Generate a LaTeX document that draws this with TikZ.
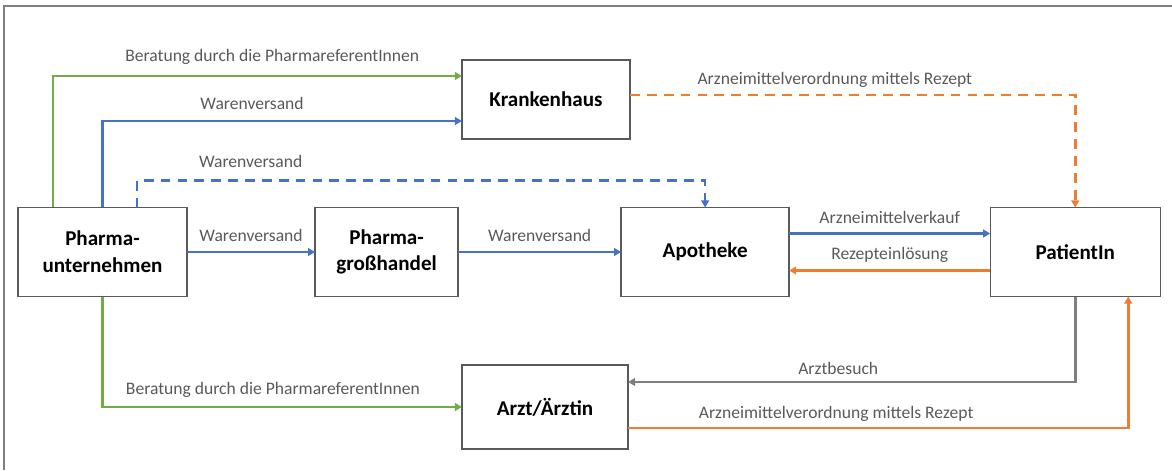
\documentclass[tikz,border=0pt]{standalone}
\usepackage{fontspec}
\setmainfont{Carlito}
\usetikzlibrary{arrows.meta,positioning}
\definecolor{flowgreen}{HTML}{70AD47}
\definecolor{flowblue}{HTML}{4472C4}
\definecolor{floworange}{HTML}{ED7D31}
\definecolor{flowgray}{HTML}{7F7F7F}
\definecolor{textgray}{HTML}{595959}
\tikzset{
	box/.style={
		rectangle,
		draw=textgray,
		line width=1pt,
		fill=white,
		align=center,
		inner sep=0pt,
		outer sep=0pt,
		font=\fontsize{15}{19}\selectfont\bfseries,
		minimum height=2.225cm,
	},
	lbl/.style={
		text=textgray,
		font=\fontsize{12.5}{15}\selectfont,
		inner sep=3pt,
	},
	flow/.style={
		->,
		line width=1.9pt,
	},
	dashflow/.style={
		flow,
		dash pattern=on 7pt off 5pt,
	},
}

\begin{document}
\begin{tikzpicture}[x=0.025cm,y=-0.025cm,>={Triangle[length=5pt,width=5.5pt]}]
	\useasboundingbox (0,0) rectangle (1172,470);
	\draw[flowgray, line width=1pt] (4,470) -- (4,6) -- (1172,6);

	\node [box, minimum width=4.225cm] (pharma) at (102.5,252) {Pharma-\\unternehmen};
	\node [box, minimum width=3.575cm] (grosshandel) [right=3.2cm of pharma] {Pharma-\\großhandel};
	\node [box, minimum width=4.2cm] (apotheke) [right=4.075cm of grosshandel] {Apotheke};
	\node [box, minimum width=4.25cm] (patient) [right=5.025cm of apotheke] {PatientIn};
	\node [box, minimum width=4.2cm, minimum height=1.975cm] (krankenhaus) at (546,99.5) {Krankenhaus};
	\node [box, minimum width=4.15cm, minimum height=2.1cm] (arzt) at (545,407) {Arzt/Ärztin};

	\draw[flow, flowgreen] ([xshift=-1.2375cm]pharma.north) |- node[lbl, pos=0.768, above=4.3pt] {Beratung durch die PharmareferentInnen} ([yshift=0.5875cm]krankenhaus.west);
	\draw[flow, flowblue] (pharma.north) |- node[lbl, pos=0.708, above=4.3pt] {Warenversand} ([yshift=-0.5375cm]krankenhaus.west);
	\draw[dashflow, flowblue] ([xshift=0.8625cm]pharma.north) -- ++(0,-27) -| node[lbl, pos=0.1, above=5pt] {Warenversand} (apotheke.north);
	\draw[flow, flowblue] (pharma) -- node[lbl, above=3.5pt] {Warenversand} (grosshandel);
	\draw[flow, flowblue] (grosshandel) -- node[lbl, above=3.5pt] {Warenversand} (apotheke);
	\draw[flow, flowblue] ([yshift=0.4625cm]apotheke.east) -- node[lbl, above=2.8pt] {Arzneimittelverkauf} ([yshift=0.4625cm]patient.west);
	\draw[flow, floworange] ([yshift=-0.4625cm]patient.west) -- node[lbl, above=1.4pt] {Rezepteinlösung} ([yshift=-0.4625cm]apotheke.east);
	\draw[dashflow, floworange] ([yshift=0.1125cm]krankenhaus.east) -| node[lbl, pos=0.23, above=1.4pt] {Arzneimittelverordnung mittels Rezept} (patient.north);
	\draw[flow, flowgreen] (pharma.south) |- node[lbl, pos=0.737, above=2.8pt] {Beratung durch die PharmareferentInnen} (arzt.west);
	\draw[flow, flowgray] (patient.south) |- node[lbl, pos=0.765, above=1.4pt] {Arztbesuch} ([yshift=0.625cm]arzt.east);
	\draw[flow, floworange] ([yshift=-0.525cm]arzt.east) -| node[lbl, pos=0.208, above=0.7pt] {Arzneimittelverordnung mittels Rezept} ([xshift=1.325cm]patient.south);
\end{tikzpicture}
\end{document}
